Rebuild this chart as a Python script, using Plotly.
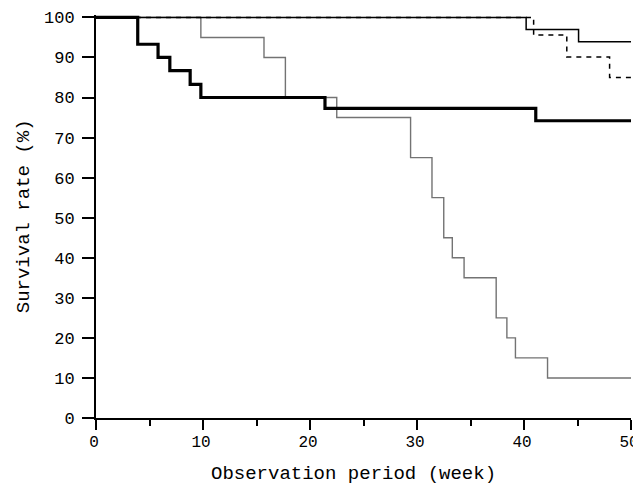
import plotly.graph_objects as go

# Kaplan-Meier style step curves (time in weeks, survival %)
thick_t = [0, 3.9, 5.8, 6.9, 8.8, 9.8, 21.4, 41.1, 50]
thick_s = [100, 93.3, 90.0, 86.7, 83.3, 80.0, 77.3, 74.2, 74.2]

gray_t = [0, 9.8, 15.7, 17.7, 22.5, 29.4, 31.4, 32.5, 33.3, 34.4, 37.4, 38.4, 39.2, 42.2, 50]
gray_s = [100, 95, 90, 80, 75, 65, 55, 45, 40, 35, 25, 20, 15, 10, 10]

thin_t = [0, 40.2, 45.1, 50]
thin_s = [100, 97.0, 93.9, 93.9]

dash_t = [0, 40.9, 44.0, 48.0, 50]
dash_s = [100, 95.6, 90.1, 85.0, 85.0]

x_ticks = [0, 10, 20, 30, 40, 50]
y_ticks = [0, 10, 20, 30, 40, 50, 60, 70, 80, 90, 100]

x_title = "Observation period (week)"
y_title = "Survival rate (%)"

FONT = "Courier New, Liberation Mono, monospace"

x_ticktext = [str(v) for v in x_ticks]

fig = go.Figure()
fig.add_trace(go.Scatter(x=gray_t, y=gray_s, mode="lines", line=dict(shape="hv", color="#737373", width=1.4)))
fig.add_trace(go.Scatter(x=dash_t, y=dash_s, mode="lines", line=dict(shape="hv", color="black", width=1.5, dash="5px,5px")))
fig.add_trace(go.Scatter(x=thin_t, y=thin_s, mode="lines", line=dict(shape="hv", color="black", width=1.5)))
fig.add_trace(go.Scatter(x=thick_t, y=thick_s, mode="lines", line=dict(shape="hv", color="black", width=3.2)))

# the page body adds an 8px offset; the figure starts at (8, 8) in the window
fig.update_layout(
    width=641, height=476,
    margin=dict(l=88, r=18, t=7, b=66, autoexpand=False),
    paper_bgcolor="white", plot_bgcolor="white",
    showlegend=False,
    font=dict(family=FONT, color="black", size=17),
    annotations=[
        dict(text=x_title, xref="paper", yref="paper", x=0.481, y=-0.138,
             xanchor="center", yanchor="middle", showarrow=False,
             font=dict(family=FONT, size=19)),
        dict(text=y_title, xref="paper", yref="paper", x=-0.135, y=0.5,
             xanchor="center", yanchor="middle", showarrow=False, textangle=-90,
             font=dict(family=FONT, size=19)),
    ],
)
fig.update_xaxes(
    range=[0, 50], tickvals=x_ticks, ticktext=x_ticktext,
    automargin=False, ticklabeloverflow="allow", ticklabelshift=-2,
    showgrid=False, zeroline=False, showline=True, linecolor="black", linewidth=2,
    ticks="outside", ticklen=10, tickwidth=2, tickcolor="black",
    minor=dict(dtick=5, tick0=0, ticks="outside", ticklen=6, tickwidth=2, tickcolor="black", showgrid=False),
    tickfont=dict(family=FONT, size=16), ticklabelstandoff=-2,
)
fig.update_yaxes(
    range=[0, 100.6], tickvals=y_ticks, ticktext=[str(v) for v in y_ticks],
    automargin=False,
    showgrid=False, zeroline=False, showline=True, linecolor="black", linewidth=2,
    ticks="outside", ticklen=12, tickwidth=2, tickcolor="black",
    tickfont=dict(family=FONT, size=17), ticklabelstandoff=4,
)

fig.write_html("out.html")
